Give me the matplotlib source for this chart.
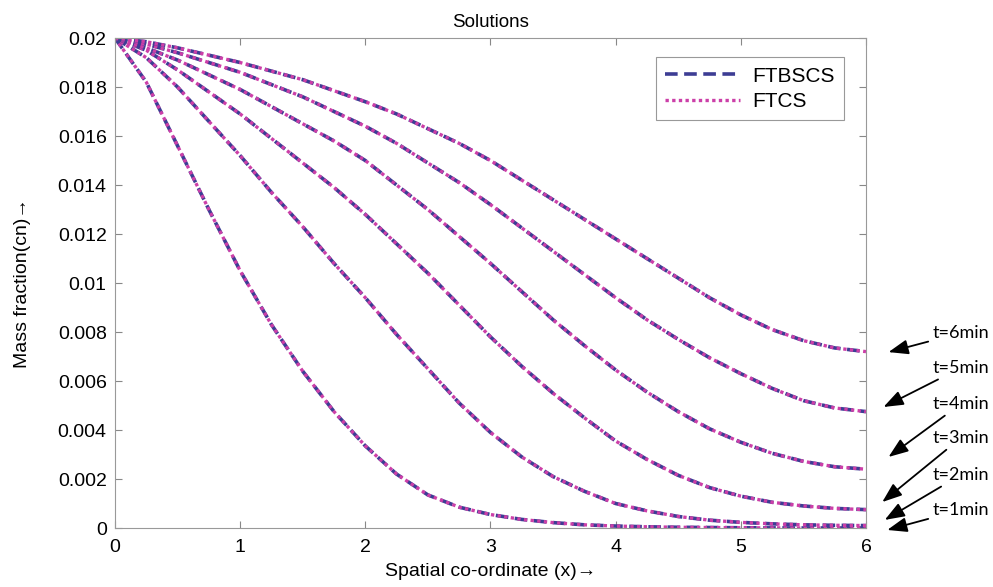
import numpy as np
import matplotlib
matplotlib.use("Agg")
import matplotlib.pyplot as plt

plt.rcParams.update({
    "font.family": ["Liberation Sans", "DejaVu Sans"],
    "xtick.direction": "in", "ytick.direction": "in",
    "xtick.top": True, "ytick.right": True,
})

# ── data (mass fraction x1e-3) ───────────────────────────────────
x = [0, 0.25, 0.5, 0.75, 1, 1.25, 1.5, 1.75, 2, 2.25, 2.5, 2.75, 3,
     3.25, 3.5, 3.75, 4, 4.25, 4.5, 4.75, 5, 5.25, 5.5, 5.75, 6]

t1 = [20, 18.2, 15.6, 13.0, 10.5, 8.3, 6.4, 4.75, 3.35, 2.2, 1.35, 0.85, 0.55,
      0.35, 0.22, 0.13, 0.08, 0.05, 0.03, 0.02, 0.01, 0.005, 0.0, 0.0, 0.0]
t2 = [20, 19.2, 18.0, 16.6, 15.2, 13.7, 12.3, 10.8, 9.4, 7.9, 6.5, 5.1, 3.9,
      2.9, 2.1, 1.5, 1.0, 0.7, 0.47, 0.32, 0.23, 0.17, 0.13, 0.11, 0.10]
t3 = [20, 19.5, 18.7, 17.8, 16.9, 15.9, 14.9, 13.9, 12.8, 11.6, 10.4, 9.1, 7.8,
      6.6, 5.5, 4.5, 3.55, 2.8, 2.15, 1.65, 1.3, 1.05, 0.9, 0.8, 0.75]
t4 = [20, 19.6, 19.1, 18.5, 17.9, 17.2, 16.5, 15.8, 15.0, 14.0, 13.0, 11.9, 10.8,
      9.65, 8.5, 7.45, 6.45, 5.55, 4.75, 4.05, 3.5, 3.05, 2.72, 2.5, 2.4]
t5 = [20, 19.75, 19.4, 19.0, 18.6, 18.1, 17.6, 17.0, 16.4, 15.7, 14.9, 14.1, 13.2,
      12.25, 11.3, 10.35, 9.4, 8.5, 7.7, 6.95, 6.3, 5.7, 5.2, 4.9, 4.75]
t6 = [20, 19.85, 19.6, 19.3, 19.0, 18.65, 18.3, 17.85, 17.4, 16.9, 16.3, 15.7, 15.0,
      14.2, 13.4, 12.6, 11.8, 11.0, 10.2, 9.4, 8.7, 8.1, 7.65, 7.35, 7.2]

ftbscs = [t1, t2, t3, t4, t5, t6]
ftcs = [t1, t2, t3, t4, t5, t6]   # both schemes overlap in the figure

labels = ["t=1min", "t=2min", "t=3min", "t=4min", "t=5min", "t=6min"]
label_pos = [(6.53, 0.00073), (6.53, 0.00216), (6.53, 0.00367),
             (6.53, 0.00506), (6.53, 0.00653), (6.53, 0.00796)]
arrow_tip = [(6.17, -0.00008), (6.15, 0.00033), (6.13, 0.00106),
             (6.18, 0.0029), (6.14, 0.00494), (6.18, 0.00718)]

C_BS = "#3d3d94"
C_CS = "#cc3fa8"

fig = plt.figure(figsize=(9.93, 5.87), dpi=100)
ax = fig.add_axes([0.1158, 0.1005, 0.7563, 0.8347])

for i, (a, b) in enumerate(zip(ftbscs, ftcs)):
    ax.plot(x, np.array(a) * 1e-3, color=C_BS, lw=2.6, linestyle=(0, (3.5, 1.8)),
            label="FTBSCS" if i == 0 else None)
    ax.plot(x, np.array(b) * 1e-3, color=C_CS, lw=2.4, linestyle=(0, (1, 1)),
            label="FTCS" if i == 0 else None)

ax.set_xlim(0, 6)
ax.set_ylim(0, 0.02)
ax.set_xticks(range(7))
ax.set_yticks(np.arange(0, 0.0201, 0.002))
ax.set_yticklabels(["0", "0.002", "0.004", "0.006", "0.008", "0.01",
                    "0.012", "0.014", "0.016", "0.018", "0.02"])
ax.tick_params(labelsize=14, color="#888888", length=5, pad=6)
ax.tick_params(axis="x", pad=8)
for s in ax.spines.values():
    s.set_color("#999999")

ax.set_xlabel("Spatial co-ordinate (x)\u2192", fontsize=14, labelpad=5)
ax.set_ylabel("Mass fraction(cn)\u2192", fontsize=14, labelpad=19)
ax.set_title("Solutions", fontsize=13.5, pad=8)

leg = ax.legend(loc="upper right", fontsize=15, fancybox=False, framealpha=1,
                edgecolor="#999999", handlelength=3.6, borderpad=0.45,
                labelspacing=0.3, handletextpad=0.6,
                bbox_to_anchor=(0.985, 0.982))
leg.get_frame().set_linewidth(0.8)

for lab, (tx, ty), (px, py) in zip(labels, label_pos, arrow_tip):
    ax.annotate(lab, xy=(px, py), xytext=(tx, ty), textcoords="data",
                fontsize=13, ha="left", va="center",
                family=["Lato", "DejaVu Sans"], annotation_clip=False,
                arrowprops=dict(arrowstyle="-|>,head_length=0.8,head_width=0.3",
                                color="black", lw=1.3,
                                mutation_scale=15, shrinkA=1, shrinkB=0))

fig.savefig("out.png", dpi=100)
